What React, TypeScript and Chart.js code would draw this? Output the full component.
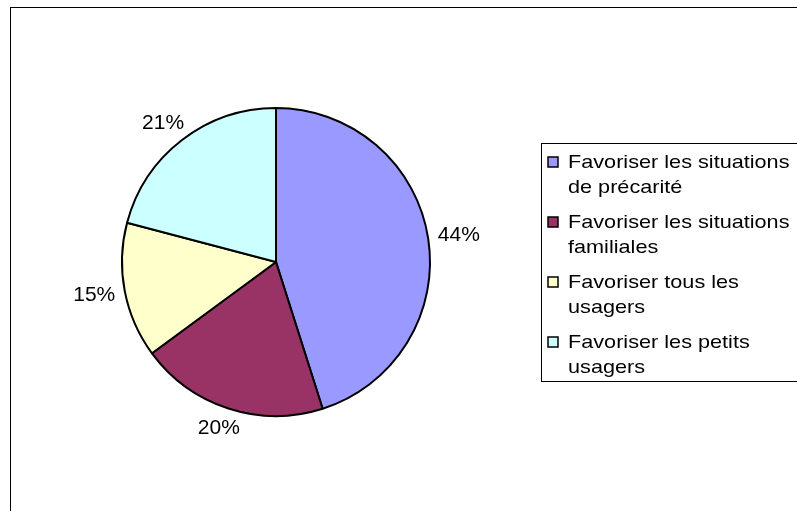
import React, { useEffect, useRef } from "react";
import { Chart, registerables } from "chart.js";

Chart.register(...registerables);

const categories = [
  ["Favoriser les situations", "de précarité"],
  ["Favoriser les situations", "familiales"],
  ["Favoriser tous les", "usagers"],
  ["Favoriser les petits", "usagers"],
];
const values = [45.1, 19.8, 14.2, 20.9];
const percentLabels = ["44%", "20%", "15%", "21%"];
const colors = ["#9999FF", "#993366", "#FFFFCC", "#CCFFFF"];

const FONT = '"Liberation Sans", Arial, sans-serif';

const decorPlugin = {
  id: "decor",
  beforeDraw(chart: any) {
    const ctx = chart.ctx;
    ctx.save();
    ctx.fillStyle = "#fff";
    ctx.fillRect(0, 0, chart.width, chart.height);
    ctx.strokeStyle = "#000";
    ctx.lineWidth = 1;
    ctx.strokeRect(10.5, 7.5, chart.width + 20, chart.height + 20);
    ctx.restore();
  },
  afterDraw(chart: any) {
    const ctx = chart.ctx;
    const meta = chart.getDatasetMeta(0);
    ctx.save();
    // percentage labels
    ctx.font = `21px ${FONT}`;
    ctx.fillStyle = "#000";
    ctx.textAlign = "center";
    ctx.textBaseline = "middle";
    meta.data.forEach((arc: any, i: number) => {
      const p = arc.getProps(["x", "y", "startAngle", "endAngle", "outerRadius"], true);
      const mid = (p.startAngle + p.endAngle) / 2;
      const c = Math.cos(mid);
      const s = Math.sin(mid);
      const r = p.outerRadius + 10;
      const txt = percentLabels[i];
      const hw = ctx.measureText(txt).width / 2;
      const hh = 11;
      const x = p.x + r * c + hw * c;
      const y = p.y + r * s + hh * s;
      ctx.fillText(txt, x, y);
    });

    // legend box
    ctx.strokeStyle = "#000";
    ctx.lineWidth = 1;
    ctx.strokeRect(541.5, 143.5, 300, 238);
    ctx.font = `19px ${FONT}`;
    ctx.textAlign = "left";
    ctx.textBaseline = "alphabetic";
    categories.forEach((lines, i) => {
      const base = 168 + i * 60;
      ctx.save();
      ctx.translate(0, i * 60);
      ctx.fillStyle = colors[i];
      ctx.fillRect(548, 157, 10, 10);
      ctx.lineWidth = 1.5;
      ctx.strokeStyle = "#000";
      ctx.strokeRect(548, 157, 10, 10);
      ctx.restore();
      ctx.fillStyle = "#000";
      lines.forEach((line, j) => {
        ctx.save();
        ctx.translate(568, base + j * 25);
        ctx.scale(1.14, 1);
        ctx.fillText(line, 0, 0);
        ctx.restore();
      });
    });
    ctx.restore();
  },
};

export default function App() {
  const ref = useRef<HTMLCanvasElement | null>(null);
  useEffect(() => {
    document.body.style.margin = "0";
    const canvas = ref.current!;
    const chart = new Chart(canvas, {
      type: "pie",
      data: {
        labels: categories.map((l) => l.join(" ")),
        datasets: [
          {
            data: values,
            backgroundColor: colors,
            borderColor: "#000",
            borderWidth: 2,
          },
        ],
      },
      options: {
        responsive: false,
        animation: false,
        devicePixelRatio: 1,
        layout: { padding: { left: 121, top: 107, right: 366, bottom: 94 } },
        plugins: {
          legend: { display: false },
          tooltip: { enabled: false },
        },
      },
      plugins: [decorPlugin],
    });
    return () => chart.destroy();
  }, []);
  return (
    <div style={{ position: "absolute", left: 0, top: 0, width: 797, height: 511 }}>
      <canvas ref={ref} width={797} height={511} />
    </div>
  );
}
